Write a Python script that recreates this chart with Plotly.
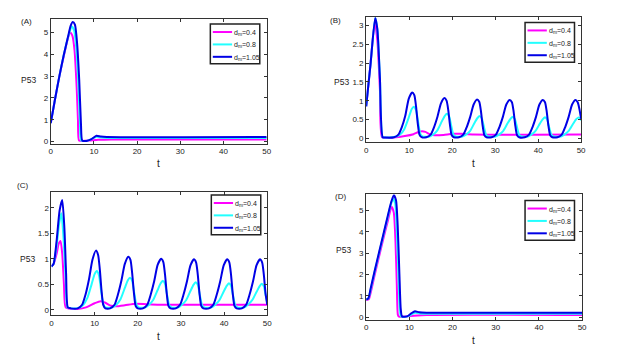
import plotly.graph_objects as go

# ----------------------------
# data
# ----------------------------
# panel A
t_a_mag = [0, 1, 2, 3, 4, 4.5, 5.0, 5.5, 6.0, 6.3, 6.55, 7.5, 9, 11, 14, 50]
p_a_mag = [0.85, 1.95, 3.0, 3.9, 4.75, 5.0, 4.85, 4.2, 2.5, 1.0, 0.05, 0.03, 0.05, 0.08, 0.1, 0.1]
t_a_cya = [0, 1, 2, 3, 4, 4.85, 5.4, 5.9, 6.4, 6.75, 7.05, 8.0, 9.2, 10.6, 11.6, 13, 50]
p_a_cya = [0.85, 1.95, 3.0, 3.95, 4.78, 5.27, 5.1, 4.3, 2.6, 0.9, 0.05, 0.03, 0.09, 0.22, 0.19, 0.17, 0.17]
t_a_blu = [0, 1, 2, 3, 4, 4.6, 5.1, 5.6, 6.1, 6.6, 7.0, 7.3, 8.3, 9.3, 10.6, 11.6, 13, 50]
p_a_blu = [0.85, 1.95, 3.0, 3.95, 4.8, 5.3, 5.47, 5.35, 4.5, 2.8, 0.8, 0.05, 0.03, 0.1, 0.27, 0.23, 0.21, 0.21]

# panel B
t_b_mag = [0, 1, 2.0, 2.6, 3.2, 3.7, 5, 7, 9, 11, 12.2, 13.0, 13.8, 14.8, 16, 18, 20, 22, 25, 50]
p_b_mag = [0.85, 1.95, 3.1, 2.6, 1.3, 0.03, 0.02, 0.03, 0.06, 0.11, 0.17, 0.19, 0.17, 0.11, 0.08,
           0.09, 0.12, 0.12, 0.1, 0.1]
t_b_cya = [0, 1, 2.1, 2.6, 3.2, 3.85, 4.5,
           6.8, 7.9, 8.9, 9.9, 10.6, 11.1, 11.6, 12.1, 12.6, 13.1,
           14.8, 15.6, 16.6, 17.6, 18.3, 18.8, 19.3, 19.8, 20.3, 20.8,
           22.4, 23.2, 24.2, 25.2, 25.9, 26.4, 26.9, 27.4, 27.9, 28.4,
           30.1, 30.9, 31.9, 32.9, 33.6, 34.1, 34.6, 35.1, 35.6, 36.1,
           37.6, 38.4, 39.4, 40.4, 41.1, 41.6, 42.1, 42.6, 43.1, 43.6,
           45.3, 46.1, 47.1, 48.1, 48.8, 49.3, 49.6, 50]
p_b_cya = [0.85, 1.95, 3.2, 2.9, 1.6, 0.03, 0.02,
           0.04, 0.1, 0.25, 0.55, 0.78, 0.84, 0.75, 0.42, 0.12, 0.05,
           0.05, 0.1, 0.22, 0.45, 0.6, 0.65, 0.58, 0.33, 0.1, 0.05,
           0.05, 0.1, 0.2, 0.41, 0.54, 0.59, 0.53, 0.3, 0.09, 0.05,
           0.05, 0.1, 0.2, 0.4, 0.52, 0.57, 0.51, 0.29, 0.09, 0.05,
           0.05, 0.1, 0.2, 0.39, 0.51, 0.56, 0.5, 0.28, 0.09, 0.05,
           0.05, 0.1, 0.2, 0.38, 0.5, 0.55, 0.54, 0.48]
t_b_blu = [0, 1, 2.1, 2.6, 3.2, 3.85, 4.5,
           6.5, 7.5, 8.3, 9.1, 9.9, 10.7, 11.2, 11.6, 12.0, 12.4, 12.9,
           14.0, 15.0, 15.8, 16.6, 17.4, 18.2, 18.7, 19.1, 19.5, 19.9, 20.4,
           21.6, 22.6, 23.4, 24.2, 25.0, 25.8, 26.3, 26.7, 27.1, 27.5, 28.0,
           29.2, 30.2, 31.0, 31.8, 32.6, 33.4, 33.9, 34.3, 34.7, 35.1, 35.6,
           36.9, 37.9, 38.7, 39.5, 40.3, 41.1, 41.6, 42.0, 42.4, 42.8, 43.3,
           44.5, 45.5, 46.3, 47.1, 47.9, 48.7, 49.2, 49.6, 50]
p_b_blu = [0.85, 1.95, 3.2, 2.9, 1.6, 0.03, 0.02,
           0.03, 0.1, 0.3, 0.6, 1.05, 1.22, 1.15, 0.85, 0.4, 0.1, 0.03,
           0.03, 0.1, 0.3, 0.58, 0.93, 1.07, 1.0, 0.75, 0.35, 0.08, 0.03,
           0.03, 0.1, 0.3, 0.57, 0.9, 1.03, 0.97, 0.72, 0.33, 0.08, 0.03,
           0.03, 0.1, 0.3, 0.57, 0.9, 1.02, 0.96, 0.71, 0.33, 0.08, 0.03,
           0.03, 0.1, 0.3, 0.57, 0.9, 1.02, 0.96, 0.71, 0.33, 0.08, 0.03,
           0.03, 0.1, 0.3, 0.57, 0.9, 1.02, 0.96, 0.78, 0.52]

# panel C
t_c_mag = [0, 0.5, 1.2, 1.7, 2.1, 2.5, 2.9, 3.3, 4.5, 6, 8, 10, 11.4, 12.5, 13.8, 15, 17, 19.5, 22, 25, 50]
p_c_mag = [0.85, 0.9, 1.1, 1.3, 1.35, 1.1, 0.5, 0.05, 0.02, 0.02, 0.05, 0.13, 0.17, 0.14, 0.08,
           0.07, 0.09, 0.12, 0.11, 0.1, 0.1]
t_c_cya = [0, 0.5, 1.2, 1.8, 2.3, 2.8, 3.3, 3.7, 4.5,
           6.3, 7.3, 8.3, 9.3, 10.0, 10.5, 11.0, 11.5, 12.0, 12.5,
           14.2, 15.0, 16.0, 17.0, 17.7, 18.2, 18.7, 19.2, 19.7, 20.2,
           21.8, 22.6, 23.6, 24.6, 25.3, 25.8, 26.3, 26.8, 27.3, 27.8,
           29.4, 30.2, 31.2, 32.2, 32.9, 33.4, 33.9, 34.4, 34.9, 35.4,
           37.1, 37.9, 38.9, 39.9, 40.6, 41.1, 41.6, 42.1, 42.6, 43.1,
           44.7, 45.5, 46.5, 47.5, 48.2, 48.7, 49.2, 49.6, 50]
p_c_cya = [0.85, 0.9, 1.25, 1.7, 1.89, 1.4, 0.6, 0.05, 0.03,
           0.04, 0.09, 0.23, 0.5, 0.7, 0.76, 0.68, 0.38, 0.12, 0.05,
           0.05, 0.1, 0.21, 0.43, 0.58, 0.63, 0.57, 0.32, 0.1, 0.05,
           0.05, 0.1, 0.2, 0.39, 0.52, 0.57, 0.51, 0.29, 0.09, 0.05,
           0.05, 0.1, 0.19, 0.37, 0.49, 0.54, 0.49, 0.28, 0.09, 0.05,
           0.05, 0.1, 0.19, 0.36, 0.47, 0.52, 0.47, 0.27, 0.09, 0.05,
           0.05, 0.1, 0.19, 0.35, 0.46, 0.51, 0.46, 0.3, 0.15]
t_c_blu = [0, 0.5, 1.2, 1.9, 2.5, 3.0, 3.4, 3.8, 4.5,
           6.1, 7.1, 7.9, 8.7, 9.5, 10.3, 10.8, 11.2, 11.6, 12.0, 12.5,
           13.6, 14.6, 15.4, 16.2, 17.0, 17.8, 18.3, 18.7, 19.1, 19.5, 20.0,
           21.2, 22.2, 23.0, 23.8, 24.6, 25.4, 25.9, 26.3, 26.7, 27.1, 27.6,
           28.8, 29.8, 30.6, 31.4, 32.2, 33.0, 33.5, 33.9, 34.3, 34.7, 35.2,
           36.5, 37.5, 38.3, 39.1, 39.9, 40.7, 41.2, 41.6, 42.0, 42.4, 42.9,
           44.1, 45.1, 45.9, 46.7, 47.5, 48.3, 48.8, 49.2, 49.6, 50]
p_c_blu = [0.85, 0.9, 1.35, 1.95, 2.15, 1.6, 0.7, 0.05, 0.03,
           0.03, 0.1, 0.3, 0.6, 0.98, 1.16, 1.08, 0.8, 0.38, 0.1, 0.03,
           0.03, 0.1, 0.3, 0.57, 0.9, 1.04, 0.98, 0.72, 0.34, 0.08, 0.03,
           0.03, 0.1, 0.3, 0.56, 0.88, 1.0, 0.94, 0.7, 0.33, 0.08, 0.03,
           0.03, 0.1, 0.3, 0.56, 0.87, 0.99, 0.93, 0.69, 0.32, 0.08, 0.03,
           0.03, 0.1, 0.3, 0.56, 0.87, 0.99, 0.93, 0.69, 0.32, 0.08, 0.03,
           0.03, 0.1, 0.3, 0.56, 0.87, 0.99, 0.93, 0.69, 0.32, 0.1]

# panel D
t_d_mag = [0, 0.6, 1, 2, 3, 4, 5, 5.9, 6.4, 6.8, 7.1, 7.35, 7.6, 9, 11, 14, 50]
p_d_mag = [0.8, 0.83, 1.1, 2.0, 2.85, 3.7, 4.5, 5.18, 4.9, 3.5, 1.5, 0.1, 0.02, 0.02, 0.06, 0.1, 0.1]
t_d_cya = [0, 0.5, 1, 2, 3, 4, 5, 5.6, 6.2, 6.7, 7.1, 7.5, 7.8, 8.1, 9.5, 10.5, 11.3, 12.3, 14, 50]
p_d_cya = [0.82, 0.86, 1.25, 2.15, 3.0, 3.85, 4.68, 5.2, 5.55, 5.35, 4.0, 1.8, 0.3, 0.03, 0.03,
           0.12, 0.2, 0.17, 0.15, 0.15]
t_d_blu = [0, 0.5, 1, 2, 3, 4, 5, 5.8, 6.4, 6.9, 7.3, 7.7, 8.0, 8.3, 9.5, 10.5, 11.3, 12.3, 14, 50]
p_d_blu = [0.82, 0.87, 1.3, 2.2, 3.05, 3.9, 4.75, 5.4, 5.72, 5.5, 4.3, 2.0, 0.4, 0.03, 0.03,
           0.18, 0.27, 0.22, 0.2, 0.2]

legend_names = ["d<sub>m</sub>=0.4", "d<sub>m</sub>=0.8", "d<sub>m</sub>=1.05"]
line_colors = ["#ff00ff", "#22ffff", "#0000e6"]

panels = [
    ("(A)", [(t_a_mag, p_a_mag), (t_a_cya, p_a_cya), (t_a_blu, p_a_blu)], [-0.1, 5.62], 1),
    ("(B)", [(t_b_mag, p_b_mag), (t_b_cya, p_b_cya), (t_b_blu, p_b_blu)], [-0.1, 3.22], 0.5),
    ("(C)", [(t_c_mag, p_c_mag), (t_c_cya, p_c_cya), (t_c_blu, p_c_blu)], [-0.1, 2.3], 0.5),
    ("(D)", [(t_d_mag, p_d_mag), (t_d_cya, p_d_cya), (t_d_blu, p_d_blu)], [-0.12, 5.76], 1),
]

W, H = 623, 356


def fx(px):
    return px / W


def fy(py):
    return 1 - py / H


# layout positions, in pixels of the 623x356 page
x_domains = [[49.3, 267.7], [368.3, 585.7], [50, 268.3], [368.3, 586.7]]
y_domains = [[19, 145], [17.3, 143.3], [194, 317.7], [196, 322.3]]
legend_box = [(210.7, 24.3), (529, 22.7), (211.7, 196.7), (529, 202.3)]
label_pos = [(24.5, 22), (337.5, 21), (20.5, 187), (342, 198)]
ylab_pos = [(26.5, 81), (343.5, 83), (25.5, 261), (345.5, 252)]
xlab_pos = [(158, 165), (476.7, 165), (158, 339), (477, 343)]

font_family = "Liberation Sans, Arial, sans-serif"

fig = go.Figure()
layout = dict(
    width=W, height=H,
    margin=dict(l=0, r=0, t=0, b=0),
    paper_bgcolor="white", plot_bgcolor="white",
    font=dict(family=font_family, size=8, color="#222"),
    showlegend=False,
    annotations=[], shapes=[],
)

for i, (tag, curves, yr, dtick) in enumerate(panels):
    n = "" if i == 0 else str(i + 1)
    for (tt, pp), name, col in zip(curves, legend_names, line_colors):
        fig.add_trace(go.Scatter(
            x=tt, y=pp, mode="lines", name=name,
            line=dict(color=col, width=2, shape="spline", smoothing=0.6),
            xaxis="x" + n, yaxis="y" + n,
        ))

    axis_style = dict(showline=True, linecolor="#333", linewidth=1, mirror="ticks",
                      ticks="inside", ticklen=3, tickcolor="#333", showgrid=False,
                      zeroline=False, tickfont=dict(size=8, color="#222"))
    xd, yd = x_domains[i], y_domains[i]
    layout["xaxis" + n] = dict(domain=[fx(xd[0]), fx(xd[1])], range=[0, 50], dtick=10,
                               anchor="y" + n, **axis_style)
    layout["yaxis" + n] = dict(domain=[fy(yd[1]), fy(yd[0])], range=yr, dtick=dtick,
                               anchor="x" + n, **axis_style)

    # legend box drawn by hand (MATLAB style, compact)
    bx, by = legend_box[i]
    layout["shapes"].append(dict(type="rect", xref="paper", yref="paper",
                                 x0=fx(bx), x1=fx(bx + 50), y0=fy(by + 40), y1=fy(by),
                                 line=dict(color="#222", width=1.5), fillcolor="white"))
    for k, (name, col) in enumerate(zip(legend_names, line_colors)):
        iy = by + 8 + 12.5 * k
        layout["shapes"].append(dict(type="line", xref="paper", yref="paper",
                                     x0=fx(bx + 2.5), x1=fx(bx + 22), y0=fy(iy), y1=fy(iy),
                                     line=dict(color=col, width=2)))
        layout["annotations"].append(dict(text=name, x=fx(bx + 22), y=fy(iy + 1),
                                          xref="paper", yref="paper", xanchor="left",
                                          yanchor="middle", showarrow=False,
                                          font=dict(size=7, color="#222")))

    layout["annotations"] += [
        dict(text=tag, x=fx(label_pos[i][0]), y=fy(label_pos[i][1]), xref="paper", yref="paper",
             xanchor="center", yanchor="middle", showarrow=False, font=dict(size=8)),
        dict(text="P53", x=fx(ylab_pos[i][0]), y=fy(ylab_pos[i][1]), xref="paper", yref="paper",
             xanchor="center", yanchor="middle", showarrow=False, font=dict(size=8.5)),
        dict(text="t", x=fx(xlab_pos[i][0]), y=fy(xlab_pos[i][1]), xref="paper", yref="paper",
             xanchor="center", yanchor="middle", showarrow=False, font=dict(size=10)),
    ]

fig.update_layout(**layout)
fig.write_html("out.html", config={"displayModeBar": False},
               post_script="document.body.style.margin='0';")
